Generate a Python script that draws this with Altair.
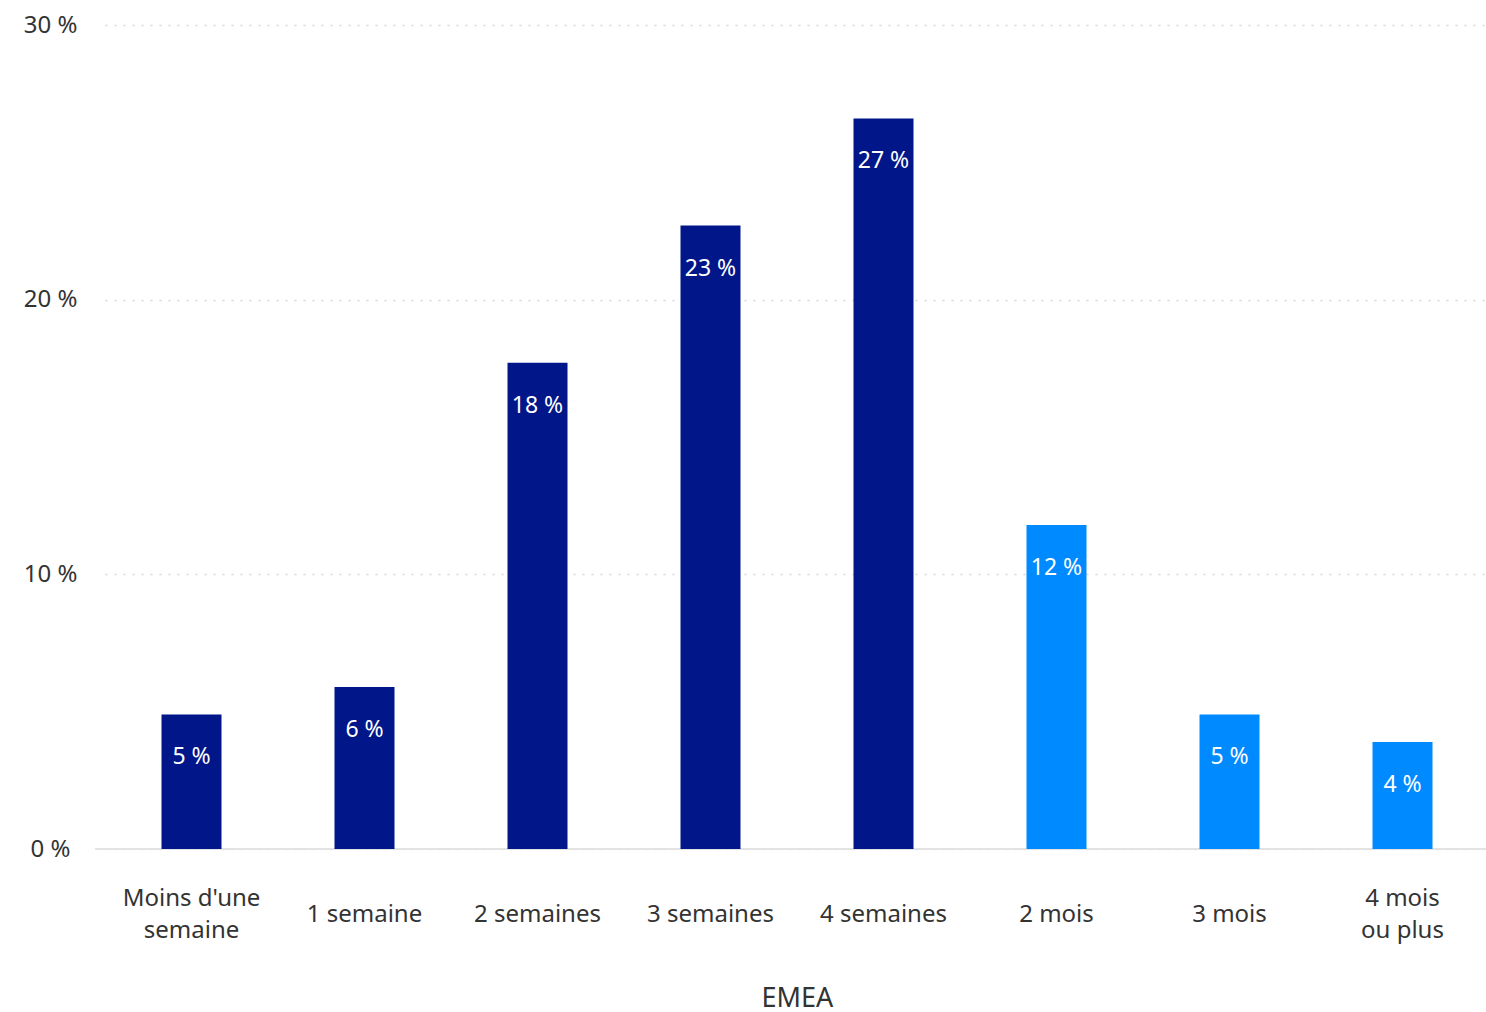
import altair as alt
import pandas as pd

categories = ["Moins d'une semaine", "1 semaine", "2 semaines", "3 semaines",
              "4 semaines", "2 mois", "3 mois", "4 mois ou plus"]
label_single = ["", "1 semaine", "2 semaines", "3 semaines", "4 semaines", "2 mois", "3 mois", ""]
label_top = ["Moins d'une", "", "", "", "", "", "", "4 mois"]
label_bottom = ["semaine", "", "", "", "", "", "", "ou plus"]
values = [4.9, 5.9, 17.7, 22.7, 26.6, 11.8, 4.9, 3.9]
labels = ["5 %", "6 %", "18 %", "23 %", "27 %", "12 %", "5 %", "4 %"]
groups = ["semaines", "semaines", "semaines", "semaines", "semaines", "mois", "mois", "mois"]

df = pd.DataFrame({"cat": categories, "value": values, "label": labels, "group": groups,
                   "single": label_single, "top": label_top, "bottom": label_bottom})

FONT = "Noto Sans"
H = 824
W = 1391

yscale = alt.Scale(domain=[0, 30], nice=False)

base = alt.Chart(df).encode(
    x=alt.X("cat:N", sort=categories, title="EMEA",
            scale=alt.Scale(range=[10, 1394], paddingInner=0, paddingOuter=0),
            axis=alt.Axis(labels=False, tickSize=0, ticks=False, domain=False,
                          titleFontSize=27, titleFont=FONT, titleFontWeight="normal",
                          titleColor="#333333", titlePadding=136, grid=False)),
)

baseline = alt.Chart(df).mark_rule(color="#e3e3e3", strokeWidth=2).encode(
    y=alt.datum(0, scale=yscale), x=alt.value(0), x2=alt.value(W)
)

bars = base.mark_bar(size=60).encode(
    y=alt.Y("value:Q", scale=yscale,
            title=None,
            axis=alt.Axis(values=[0, 10, 20, 30], labelExpr="datum.value + ' %'",
                          domain=False, ticks=False, labelPadding=45, labelAlign="center",
                          labelFontSize=24, labelColor="#333333", labelFont=FONT,
                          grid=True, gridDash=[2, 7], gridColor="#d6d6d6", gridWidth=1.5)),
    color=alt.Color("group:N", scale=alt.Scale(domain=["semaines", "mois"],
                                              range=["#001689", "#008AFF"]),
                    legend=None),
)

text = base.mark_text(dy=43, color="white", fontSize=23, font=FONT, baseline="middle").encode(
    y=alt.Y("value:Q"),
    text="label:N",
)

lab_style = dict(fontSize=24, font=FONT, color="#333333", baseline="middle", align="center")
lab_single = base.mark_text(**lab_style).encode(y=alt.value(H + 66), text="single:N")
lab_top = base.mark_text(**lab_style).encode(y=alt.value(H + 50), text="top:N")
lab_bottom = base.mark_text(**lab_style).encode(y=alt.value(H + 82), text="bottom:N")

chart = (baseline + bars + text + lab_single + lab_top + lab_bottom).properties(
    width=W, height=H,
    autosize=alt.AutoSizeParams(type="none"),
    padding={"left": 95, "top": 25, "right": 0, "bottom": 163},
).configure_view(stroke=None)

chart.save("out.html", embed_options={"renderer": "svg", "actions": False})
